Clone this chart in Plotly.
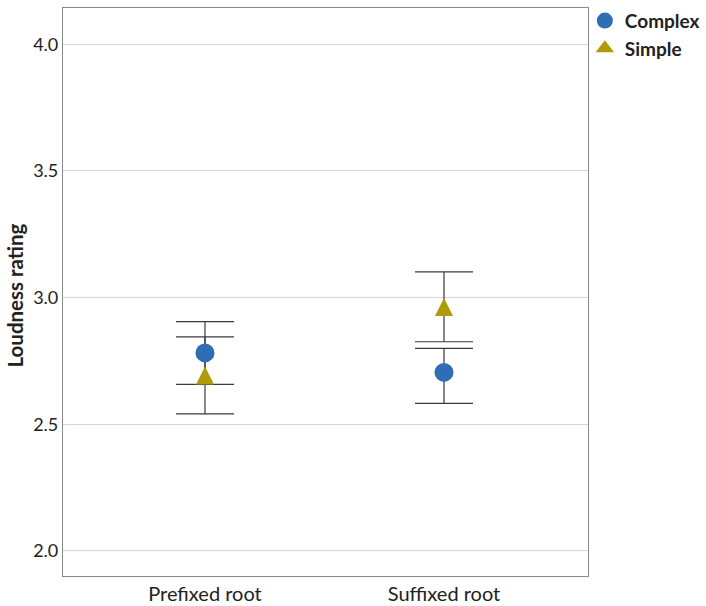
import plotly.graph_objects as go

categories = ["Prefixed root", "Suffixed root"]
complex_mean = [2.782, 2.705]
complex_upper = [2.905, 2.800]
complex_lower = [2.658, 2.583]
simple_mean = [2.693, 2.963]
simple_upper = [2.845, 3.102]
simple_lower = [2.541, 2.826]
y_ticks = [2.0, 2.5, 3.0, 3.5, 4.0]

blue = "#2f6db5"
olive = "#b09a06"
err_col = "#3a3a3a"
FONT = "Lato"

fig = go.Figure()

def err_trace(means, up, lo):
    return go.Scatter(
        x=categories, y=means, mode="markers",
        marker=dict(size=1, opacity=0),
        error_y=dict(type="data", symmetric=False,
                     array=[u - m for u, m in zip(up, means)],
                     arrayminus=[m - l for m, l in zip(means, lo)],
                     color=err_col, thickness=1.2, width=29),
        showlegend=False, hoverinfo="skip")

fig.add_trace(err_trace(complex_mean, complex_upper, complex_lower))
fig.add_trace(err_trace(simple_mean, simple_upper, simple_lower))

fig.add_trace(go.Scatter(x=categories, y=complex_mean, mode="markers", name="Complex",
                         showlegend=False,
                         marker=dict(symbol="circle", size=19, color=blue,
                                     line=dict(width=0))))
fig.add_trace(go.Scatter(x=categories, y=simple_mean, mode="markers", name="Simple",
                         showlegend=False,
                         marker=dict(symbol="arrow-down", angle=180, size=18, standoff=9,
                                     color=olive, line=dict(width=0))))

# legend entries
fig.add_trace(go.Scatter(x=[None], y=[None], mode="markers", name="Complex",
                         marker=dict(symbol="circle", size=16, color=blue, line=dict(width=0))))
fig.add_trace(go.Scatter(x=[None], y=[None], mode="markers", name="Simple",
                         marker=dict(symbol="triangle-up", size=16, color=olive, line=dict(width=0))))

fig.update_layout(
    width=706, height=606,
    margin=dict(l=63, r=118, t=8, b=30, autoexpand=False),
    plot_bgcolor="white", paper_bgcolor="white",
    font=dict(family=FONT, color="#222"),
    legend=dict(x=0.994, y=1.011, xanchor="left", yanchor="top",
                font=dict(size=19, family=FONT, color="#222", weight="bold"),
                itemsizing="trace", tracegroupgap=0, bgcolor="rgba(0,0,0,0)"),
    annotations=[dict(text="<b>Loudness rating</b>", textangle=-90,
                      xref="paper", yref="paper", x=-0.0914, y=0.4938,
                      xanchor="center", yanchor="middle", showarrow=False,
                      font=dict(size=20.5, family=FONT, color="#222"))],
)
fig.update_xaxes(type="category", range=[-0.594, 1.6025], automargin=False,
                 showline=True, linecolor="#8a8a8a", linewidth=1.2, mirror=True,
                 showgrid=False, ticks="", tickfont=dict(size=20, color="#222"))
fig.update_yaxes(range=[1.9013, 4.1433], tickvals=y_ticks, automargin=False,
                 ticktext=[f"{v:.1f}" for v in y_ticks],
                 showline=True, linecolor="#8a8a8a", linewidth=1.2, mirror=True,
                 showgrid=True, gridcolor="#d4d4d4", gridwidth=1, zeroline=False,
                 ticks="", tickfont=dict(size=18, color="#222"))

fig.write_html("out.html", config={"displayModeBar": False},
               post_script="document.body.style.margin='0';")
